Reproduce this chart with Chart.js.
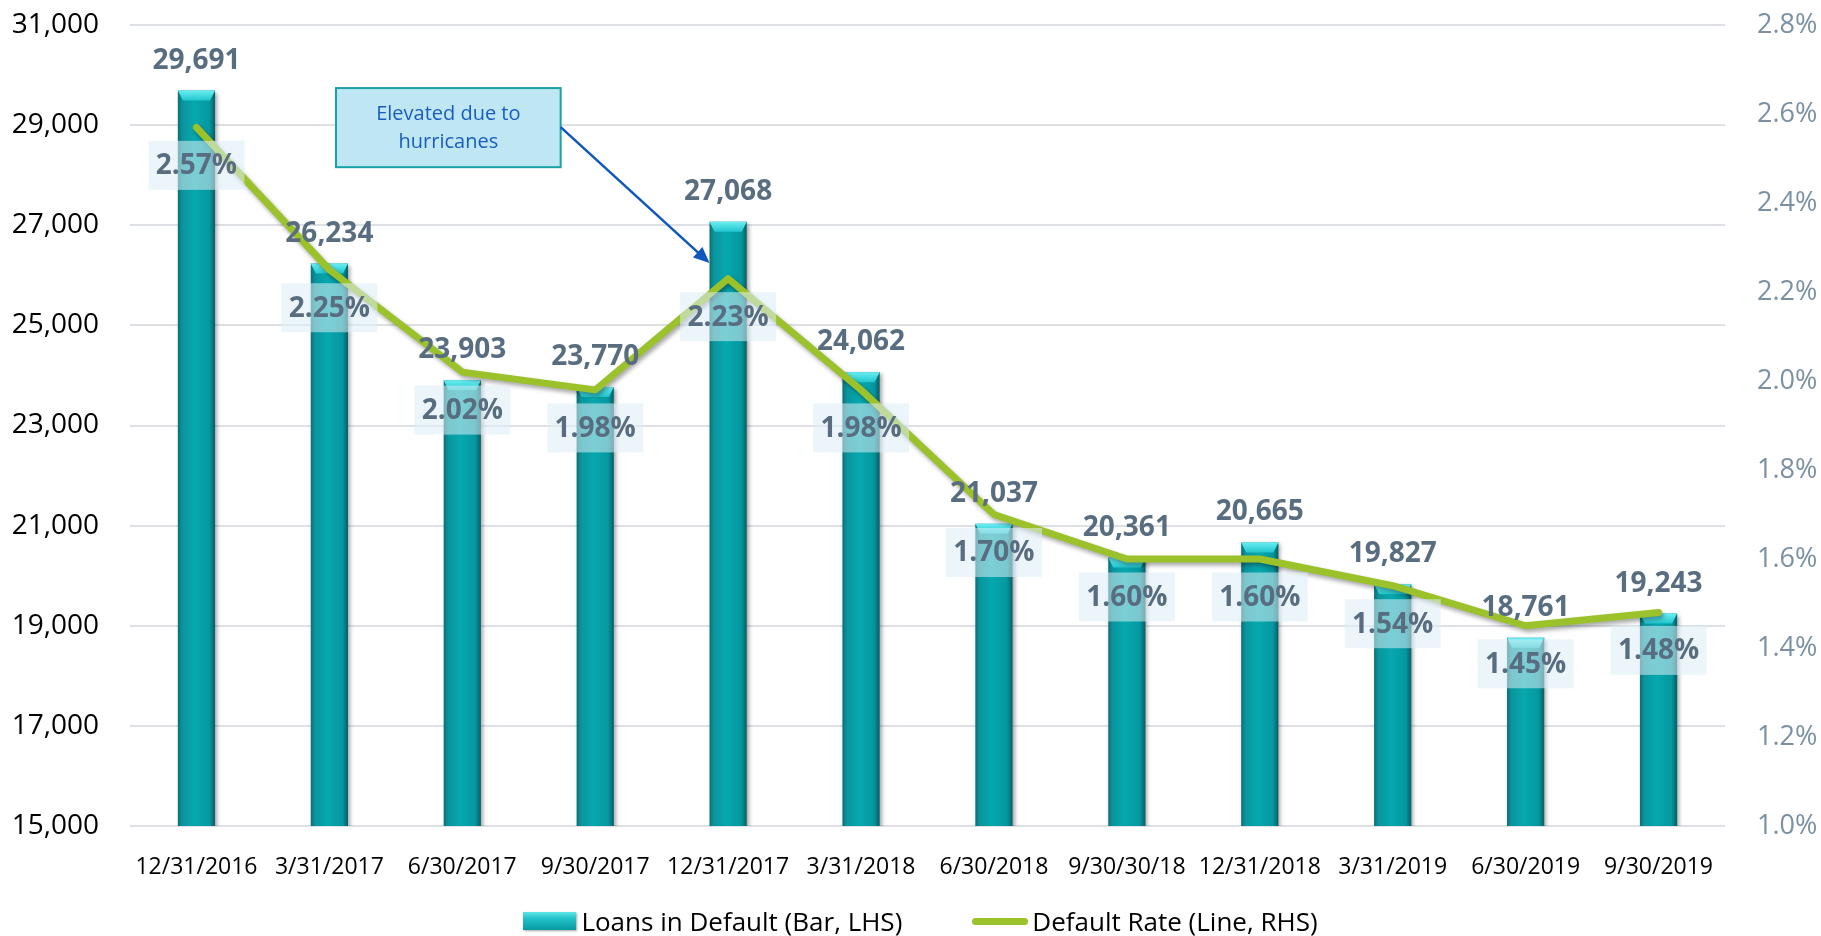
<!DOCTYPE html>
<html>
<head>
<meta charset="utf-8">
<script src="https://cdn.jsdelivr.net/npm/chart.js@4.4.0/dist/chart.umd.min.js"></script>
<style>
  html, body { margin: 0; padding: 0; background: #fff; }
  #wrap { position: relative; width: 1821px; height: 936px; }
  #legend { position: absolute; left: 0; top: 903px; width: 1821px; display: flex; justify-content: center; align-items: center; padding-left: 20px; box-sizing: border-box;
    font-family: 'Open Sans', sans-serif; font-size: 26px; color: #000; line-height: 36px; }
  .item { display: flex; align-items: center; }
  .barIcon { width: 53px; height: 18px; margin-right: 5px; background: linear-gradient(to bottom, #5fe6ea 0%, #22c3cb 35%, #089aa2 100%); box-shadow: 1px 1px 2px rgba(0,0,0,0.35); }
  .lineIcon { width: 56px; height: 7px; border-radius: 4px; margin-right: 4px; background: #9bc22a; }
</style>
</head>
<body>
<div id="wrap">
  <canvas id="c" width="1821" height="936"></canvas>
  <div id="legend">
    <div class="item" style="margin-right:70px"><div class="barIcon"></div><span>Loans in Default (Bar, LHS)</span></div>
    <div class="item"><div class="lineIcon"></div><span>Default Rate (Line, RHS)</span></div>
  </div>
</div>
<script>
const categories = ['12/31/2016','3/31/2017','6/30/2017','9/30/2017','12/31/2017','3/31/2018','6/30/2018','9/30/30/18','12/31/2018','3/31/2019','6/30/2019','9/30/2019'];
const loansInDefault = [29691, 26234, 23903, 23770, 27068, 24062, 21037, 20361, 20665, 19827, 18761, 19243];
const defaultRate = [2.57, 2.25, 2.02, 1.98, 2.23, 1.98, 1.70, 1.60, 1.60, 1.54, 1.45, 1.48];
const leftAxis = { min: 15000, max: 31000, step: 2000 };
const rightAxis = { min: 1.0, max: 2.8, step: 0.2 };
const annotationText = ['Elevated due to', 'hurricanes'];
const annotationCategory = 4;

const FONT = "'Open Sans', sans-serif";
const LABEL_COLOR = '#586d80';
const BAR_PCT = 0.28;

function barGradient(ctx) {
  const chart = ctx.chart;
  const xs = chart.scales.x;
  if (!xs || !chart.chartArea || ctx.dataIndex === undefined) return '#05a3aa';
  const cx = xs.getPixelForValue(ctx.dataIndex);
  const w = (xs.width / categories.length) * BAR_PCT;
  const g = chart.ctx.createLinearGradient(cx - w / 2, 0, cx + w / 2, 0);
  g.addColorStop(0, '#0b6f77');
  g.addColorStop(0.12, '#0a959d');
  g.addColorStop(0.45, '#06a8af');
  g.addColorStop(0.85, '#05979f');
  g.addColorStop(1, '#085d64');
  return g;
}

const effects = {
  id: 'effects',
  beforeDatasetDraw(chart, args) {
    const c = chart.ctx;
    c.save();
    c.shadowColor = 'rgba(0,0,0,0.35)';
    c.shadowBlur = 4; c.shadowOffsetX = 2; c.shadowOffsetY = args.meta.type === 'bar' ? 2 : 3;
  },
  afterDatasetDraw(chart, args) {
    const c = chart.ctx;
    c.restore();
    if (args.meta.type === 'bar') {
      args.meta.data.forEach(el => {
        const w = el.width, l = el.x - w / 2, r = el.x + w / 2, t = el.y;
        const g = c.createLinearGradient(0, t, 0, t + 11);
        g.addColorStop(0, '#6aeef2');
        g.addColorStop(1, '#19c2ca');
        c.fillStyle = g;
        c.beginPath();
        c.moveTo(l, t); c.lineTo(r, t); c.lineTo(r - 5, t + 10); c.lineTo(l + 5, t + 10); c.closePath();
        c.fill();
      });
    }
  },
  afterDatasetsDraw(chart) {
    const c = chart.ctx;
    const bars = chart.getDatasetMeta(1).data;
    const pts = chart.getDatasetMeta(0).data;
    c.save();
    c.textAlign = 'center'; c.textBaseline = 'middle';
    c.font = 'bold 28px ' + FONT;
    c.fillStyle = LABEL_COLOR;
    bars.forEach((el, i) => {
      c.fillText(loansInDefault[i].toLocaleString('en-US'), el.x, el.y - 30);
    });
    pts.forEach((el, i) => {
      const y = el.y + 38;
      c.fillStyle = 'rgba(220,239,246,0.55)';
      c.fillRect(el.x - 48, y - 24.5, 96, 49);
      c.fillStyle = LABEL_COLOR;
      c.fillText(defaultRate[i].toFixed(2) + '%', el.x, y + 1);
    });
    c.restore();
  },
  afterDraw(chart) {
    const c = chart.ctx;
    const xs = chart.scales.x, ys = chart.scales.y;
    const bx0 = xs.getPixelForValue(1.05), bx1 = xs.getPixelForValue(2.74);
    const by0 = ys.getPixelForValue(29740), by1 = ys.getPixelForValue(28160);
    c.save();
    c.fillStyle = '#bfe6f3';
    c.fillRect(bx0, by0, bx1 - bx0, by1 - by0);
    c.strokeStyle = '#17a2a8'; c.lineWidth = 2;
    c.strokeRect(bx0, by0, bx1 - bx0, by1 - by0);
    c.fillStyle = '#1a5dc0';
    c.font = '20px ' + FONT;
    c.textAlign = 'center'; c.textBaseline = 'middle';
    const cx = (bx0 + bx1) / 2;
    c.fillText(annotationText[0], cx, by0 + 26);
    c.fillText(annotationText[1], cx, by0 + 54);
    const bar = chart.getDatasetMeta(1).data[annotationCategory];
    const ax0 = bx1, ay0 = by0 + 39;
    const ax1 = bar.x - bar.width / 2, ay1 = ys.getPixelForValue(26246);
    c.strokeStyle = '#0f56bd'; c.fillStyle = '#0f56bd'; c.lineWidth = 2.5;
    const ang = Math.atan2(ay1 - ay0, ax1 - ax0);
    const hl = 16;
    c.beginPath(); c.moveTo(ax0, ay0);
    c.lineTo(ax1 - Math.cos(ang) * hl * 0.8, ay1 - Math.sin(ang) * hl * 0.8); c.stroke();
    c.beginPath();
    c.moveTo(ax1, ay1);
    c.lineTo(ax1 - hl * Math.cos(ang) + 7 * Math.sin(ang), ay1 - hl * Math.sin(ang) - 7 * Math.cos(ang));
    c.lineTo(ax1 - hl * Math.cos(ang) - 7 * Math.sin(ang), ay1 - hl * Math.sin(ang) + 7 * Math.cos(ang));
    c.closePath(); c.fill();
    c.restore();
  }
};

new Chart(document.getElementById('c'), {
  data: {
    labels: categories,
    datasets: [
      {
        type: 'line', label: 'Default Rate (Line, RHS)', data: defaultRate, yAxisID: 'y1', order: 0,
        borderColor: '#9bc22a', borderWidth: 7, pointRadius: 0, tension: 0, fill: false,
        borderCapStyle: 'round', borderJoinStyle: 'round'
      },
      {
        type: 'bar', label: 'Loans in Default (Bar, LHS)', data: loansInDefault, yAxisID: 'y', order: 1,
        backgroundColor: barGradient, borderWidth: 0,
        barPercentage: BAR_PCT, categoryPercentage: 1.0
      }
    ]
  },
  options: {
    responsive: false,
    animation: false,
    layout: { padding: { top: 25, bottom: 50, left: 0, right: 0 } },
    plugins: { legend: { display: false }, tooltip: { enabled: false } },
    scales: {
      x: {
        grid: { display: false }, border: { display: false },
        ticks: { font: { family: FONT, size: 23 }, color: '#000', padding: 20, maxRotation: 0, autoSkip: false },
        afterFit(s) { s.height = 60; }
      },
      y: {
        position: 'left', min: leftAxis.min, max: leftAxis.max,
        grid: { color: '#dde1e6', lineWidth: 2, drawTicks: false }, border: { display: false },
        ticks: { stepSize: leftAxis.step, font: { family: FONT, size: 28 }, color: '#000', padding: 31,
          callback: v => v.toLocaleString('en-US') },
        afterFit(s) { s.width = 130; s.paddingTop = 0; s.paddingBottom = 0; }
      },
      y1: {
        position: 'right', min: rightAxis.min, max: rightAxis.max,
        grid: { display: false, drawTicks: false }, border: { display: false },
        ticks: { stepSize: rightAxis.step, font: { family: FONT, size: 27 }, color: '#7b90a2', padding: 32,
          callback: v => v.toFixed(1) + '%' },
        afterFit(s) { s.width = 96; s.paddingTop = 0; s.paddingBottom = 0; }
      }
    }
  },
  plugins: [effects]
});
</script>
</body>
</html>
